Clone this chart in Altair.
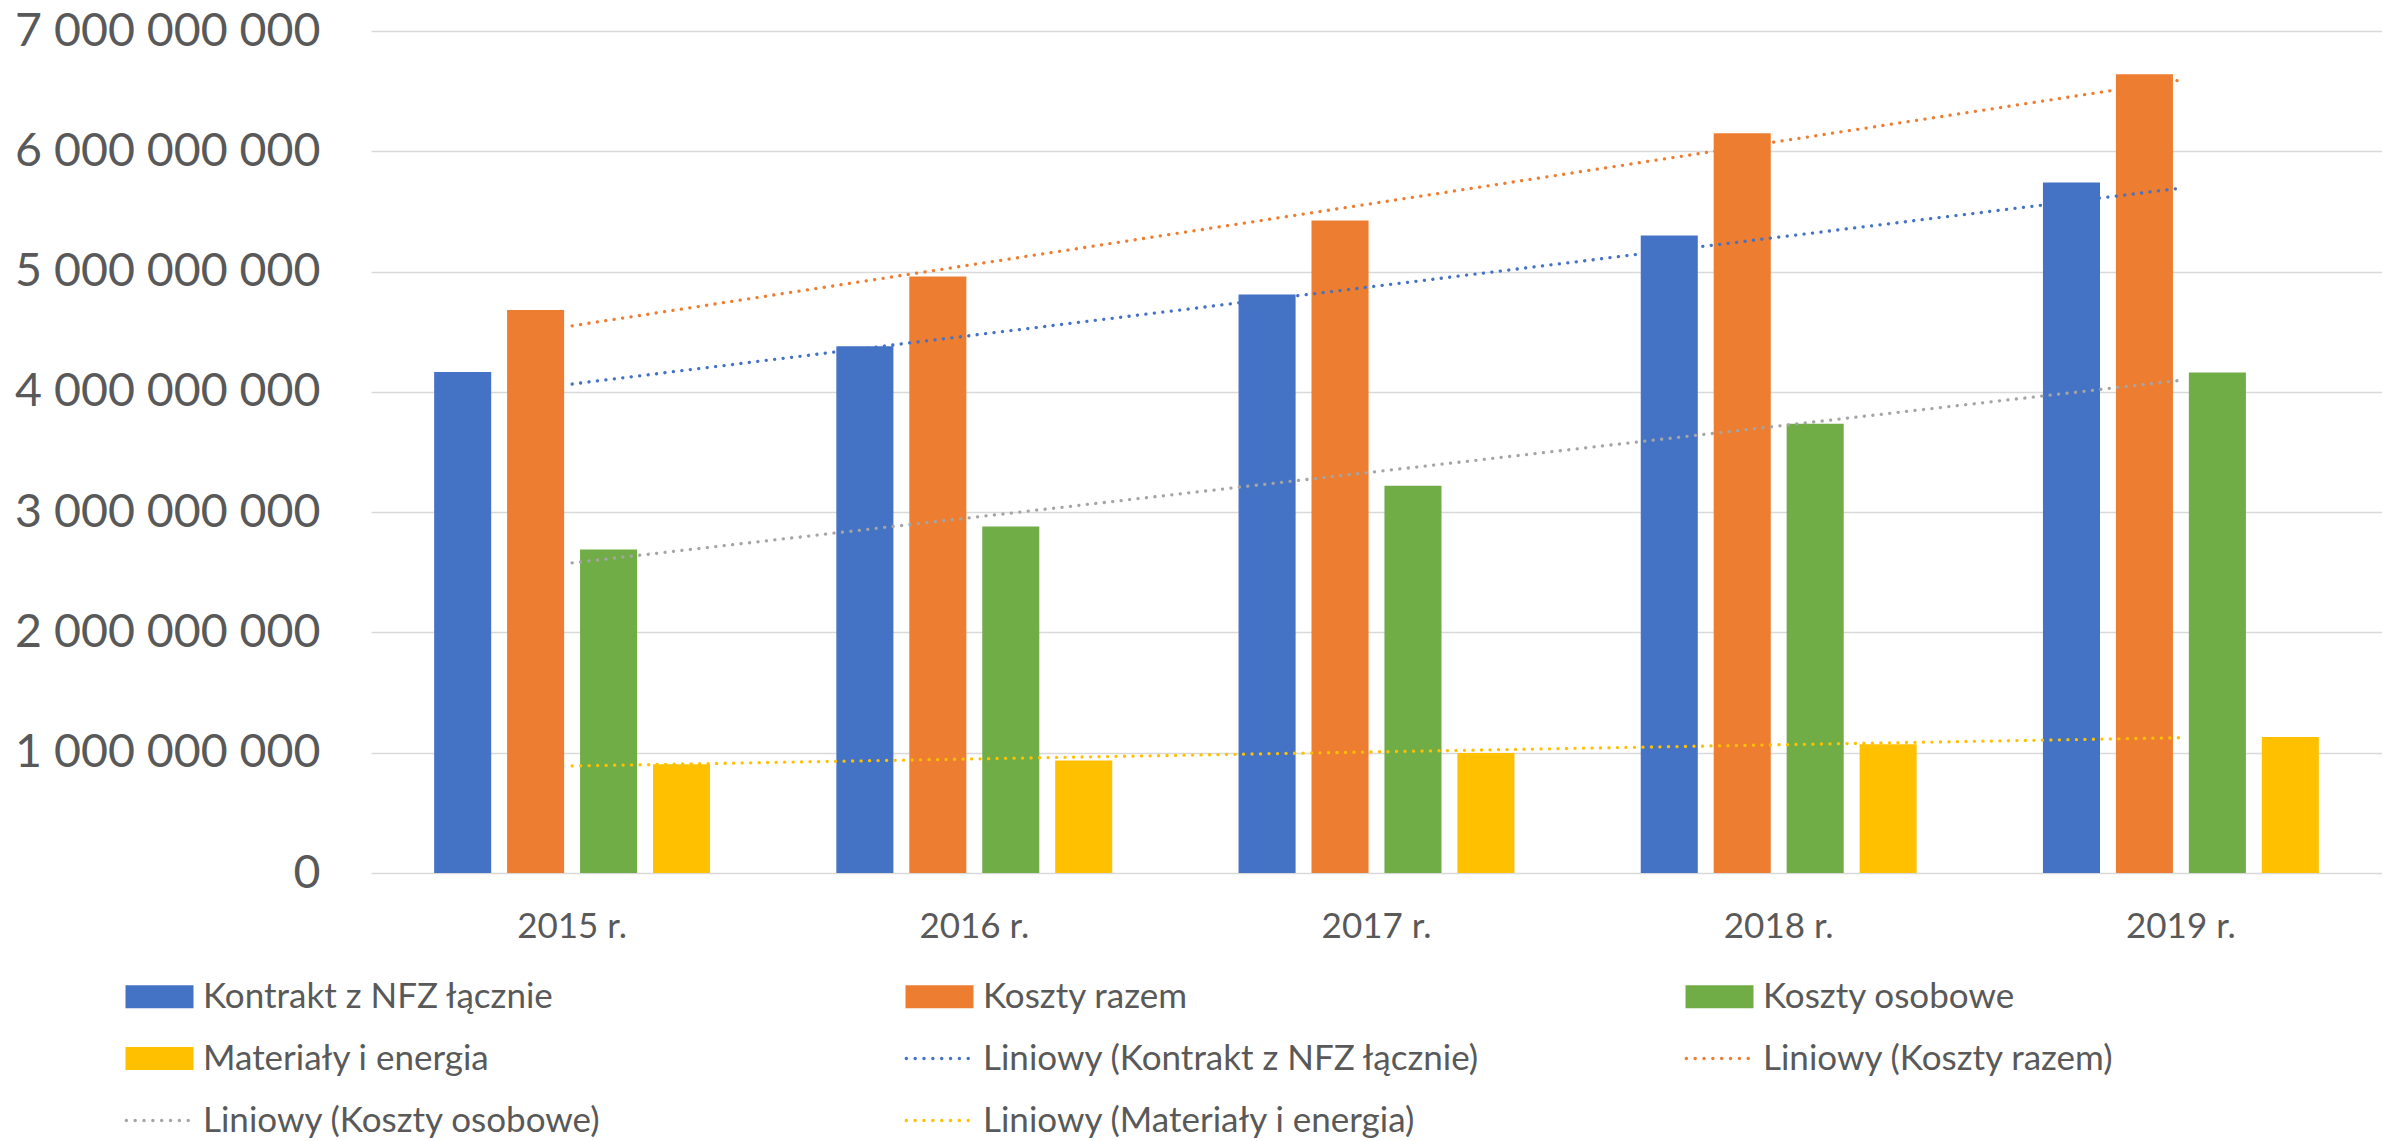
import altair as alt
import pandas as pd

# ---- data ----
years = ["2015 r.", "2016 r.", "2017 r.", "2018 r.", "2019 r."]
series = ["Kontrakt z NFZ łącznie", "Koszty razem", "Koszty osobowe", "Materiały i energia"]
kontrakt = [4.165e9, 4.38e9, 4.81e9, 5.30e9, 5.74e9]
koszty_razem = [4.68e9, 4.96e9, 5.425e9, 6.15e9, 6.64e9]
koszty_osobowe = [2.69e9, 2.88e9, 3.22e9, 3.735e9, 4.16e9]
materialy = [0.904e9, 0.935e9, 0.998e9, 1.07e9, 1.13e9]
y_ticks = [0, 1e9, 2e9, 3e9, 4e9, 5e9, 6e9, 7e9]

bar_colors = ["#4472C4", "#ED7D31", "#70AD47", "#FFC000"]
trend_colors = ["#4472C4", "#ED7D31", "#A5A5A5", "#FFC000"]

trend_names = ["Liniowy (" + s + ")" for s in series]
legend_domain = series + trend_names
legend_range = bar_colors + trend_colors

# ---- tables ----
values = [kontrakt, koszty_razem, koszty_osobowe, materialy]
rows = []
for s, vals in zip(series, values):
    for i, (yr, v) in enumerate(zip(years, vals)):
        rows.append({"year": yr, "idx": i, "series": s, "value": v})
df = pd.DataFrame(rows)
years_df = pd.DataFrame({"idx": list(range(len(years))), "year": years})
legend_df = pd.DataFrame({"leg": legend_domain})

# legend symbols: wide rectangle for bars, row of dots for trend lines
rect_path = "M-2,-0.676H2V0.676H-2Z"
r = 0.1
dots = []
for k in range(8):
    cx = -1.95 + k * 0.52
    dots.append(f"M{cx - r:.3f},0a{r},{r} 0 1,0 {2 * r},0a{r},{r} 0 1,0 {-2 * r},0")
dot_path = "".join(dots)
legend_shapes = [rect_path] * 4 + [dot_path] * 4

font = "Lato"
text_color = "#595959"

color_scale = alt.Scale(domain=legend_domain, range=legend_range)

x_axis = alt.Axis(title=None, labelAngle=0, labelFont=font, labelFontSize=35,
                  labelColor=text_color, labelPadding=36, ticks=False,
                  domain=False, grid=False)
y_axis = alt.Axis(title=None, values=y_ticks,
                  labelExpr="replace(format(datum.value, ','), regexp(',', 'g'), ' ')",
                  grid=True, gridColor="#d9d9d9", gridWidth=1.5, domain=False,
                  ticks=False, labelFont=font, labelFontSize=46.5, labelLimit=500,
                  labelColor=text_color, labelPadding=51)

x_enc = alt.X("year:N", sort=years,
              scale=alt.Scale(domain=years, paddingInner=0.314, paddingOuter=0.157),
              axis=x_axis)
y_scale = alt.Scale(domain=[0, 7e9], nice=False)

bars = alt.Chart(df).mark_bar().encode(
    x=x_enc,
    xOffset=alt.XOffset("series:N", sort=series,
                        scale=alt.Scale(domain=series, paddingInner=0.218, paddingOuter=0)),
    y=alt.Y("value:Q", scale=y_scale, axis=y_axis),
    color=alt.Color("series:N", scale=color_scale, legend=None),
)

trend = alt.Chart(df).transform_regression(
    "idx", "value", groupby=["series"]
).transform_lookup(
    lookup="idx", from_=alt.LookupData(years_df, "idx", ["year"])
).transform_calculate(
    trend="'Liniowy (' + datum.series + ')'"
).mark_line(strokeWidth=3.3, strokeDash=[0.1, 8.4], strokeCap="round").encode(
    x=alt.X("year:N", sort=years),
    y=alt.Y("value:Q", scale=y_scale),
    color=alt.Color("trend:N", scale=color_scale, legend=None),
    detail="series:N",
)

leg = alt.Legend(title=None, orient="none", legendX=-229, legendY=948, columns=3,
                 direction="horizontal",
                 gridAlign="all", columnPadding=203, rowPadding=26, symbolSize=1156,
                 symbolStrokeWidth=0, symbolOpacity=1, labelFont=font,
                 labelFontSize=35, labelColor=text_color, labelOffset=26,
                 labelLimit=1500, padding=0)

legend_layer = alt.Chart(legend_df).mark_point(filled=True, opacity=1).encode(
    color=alt.Color("leg:N", scale=color_scale, legend=leg),
    shape=alt.Shape("leg:N", scale=alt.Scale(domain=legend_domain, range=legend_shapes),
                    legend=leg),
).transform_filter("false")

chart = alt.layer(bars, trend, legend_layer).resolve_legend(
    color="independent", shape="independent"
).properties(
    width=2011, height=842,
    autosize=alt.AutoSizeParams(type="none"),
    padding={"left": 363, "top": 23, "right": 0, "bottom": 268},
).configure_view(stroke=None)

chart.save("out.html", embed_options={"renderer": "svg", "actions": False})
